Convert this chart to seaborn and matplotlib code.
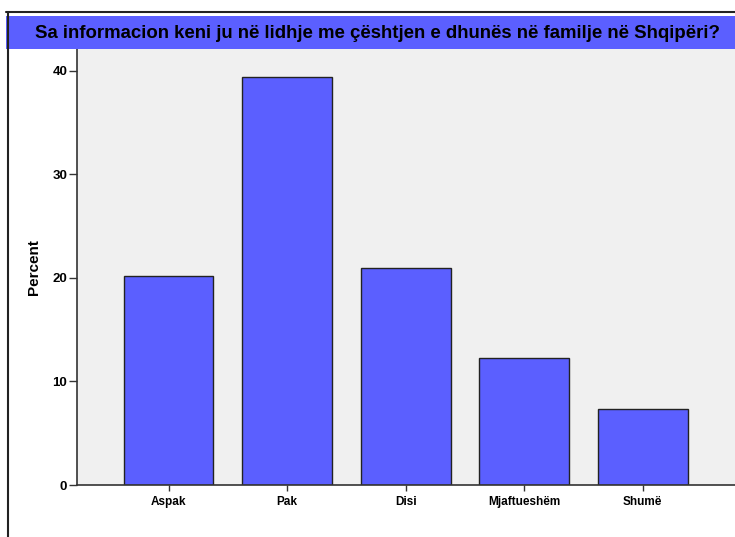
import matplotlib
matplotlib.use('Agg')
import matplotlib.pyplot as plt
from matplotlib.patches import Rectangle
from matplotlib.lines import Line2D
import seaborn as sns

# ── Data ───────────────────────────────────────────────────────────────────
categories = ['Aspak', 'Pak', 'Disi', 'Mjaftueshëm', 'Shumë']
percent = [20.2, 39.4, 21.0, 12.3, 7.3]
y_ticks = [0, 10, 20, 30, 40]
title = 'Sa informacion keni ju në lidhje me çështjen e dhunës në familje në Shqipëri?'

BLUE = '#5b5fff'
W, H = 735, 537

sns.set_theme(style='white')
plt.rcParams['font.family'] = ['Liberation Sans', 'DejaVu Sans']
plt.rcParams['font.weight'] = 'bold'
plt.rcParams['text.color'] = 'black'
plt.rcParams['axes.labelcolor'] = 'black'
plt.rcParams['xtick.color'] = 'black'
plt.rcParams['ytick.color'] = 'black'

fig = plt.figure(figsize=(W / 100, H / 100), dpi=100)

# main plot area (pixel positions from the reference)
x0, x1, ytop, ybot = 77, 735, 49, 485
ax = fig.add_axes([x0 / W, (H - ybot) / H, (x1 - x0) / W + 0.01, (ybot - ytop) / H])
ax.set_facecolor('#f0f0f0')

sns.barplot(x=categories, y=percent, color=BLUE, saturation=1, width=0.756,
            edgecolor='#222222', linewidth=1.0, ax=ax)

ax.set_xlim(-0.773, 4.84)
ax.set_ylim(0, 42.1)
ax.set_yticks(y_ticks)
ax.set_yticklabels([str(t) for t in y_ticks], fontsize=9.5, fontweight='bold')
ax.set_xticks(range(len(categories)))
ax.set_xticklabels(categories, fontsize=8.5, fontweight='bold')
ax.tick_params(axis='y', left=True, direction='out', length=6, width=1,
               color='#333333', labelcolor='black', pad=1)
ax.tick_params(axis='x', bottom=True, direction='out', length=4, width=1,
               color='#333333', labelcolor='black', pad=4)
ax.set_xlabel('')
ax.set_ylabel('Percent', fontsize=11, fontweight='bold', color='black')
ax.yaxis.set_label_coords(-(77 - 41) / (x1 - x0), 0.5)
for side in ['top', 'right']:
    ax.spines[side].set_visible(False)
for side in ['left', 'bottom']:
    ax.spines[side].set_color('#333333')
    ax.spines[side].set_linewidth(1.2)

# title band
fig.add_artist(Rectangle((6 / W, (H - 49) / H), 1 - 6 / W, 33 / H,
                         transform=fig.transFigure, facecolor=BLUE, edgecolor='none'))
fig.text((6 + 735) / 2 / W + 0.009, (H - 33) / H, title, ha='center', va='center',
         fontsize=13.4, fontweight='bold', color='black')

# outer frame
fig.add_artist(Line2D([6 / W, 1], [(H - 12) / H] * 2, transform=fig.transFigure,
                      color='#222222', lw=1.5))
fig.add_artist(Line2D([8 / W] * 2, [0, (H - 12) / H], transform=fig.transFigure,
                      color='#222222', lw=1.5))

fig.savefig('out.png', dpi=100)
